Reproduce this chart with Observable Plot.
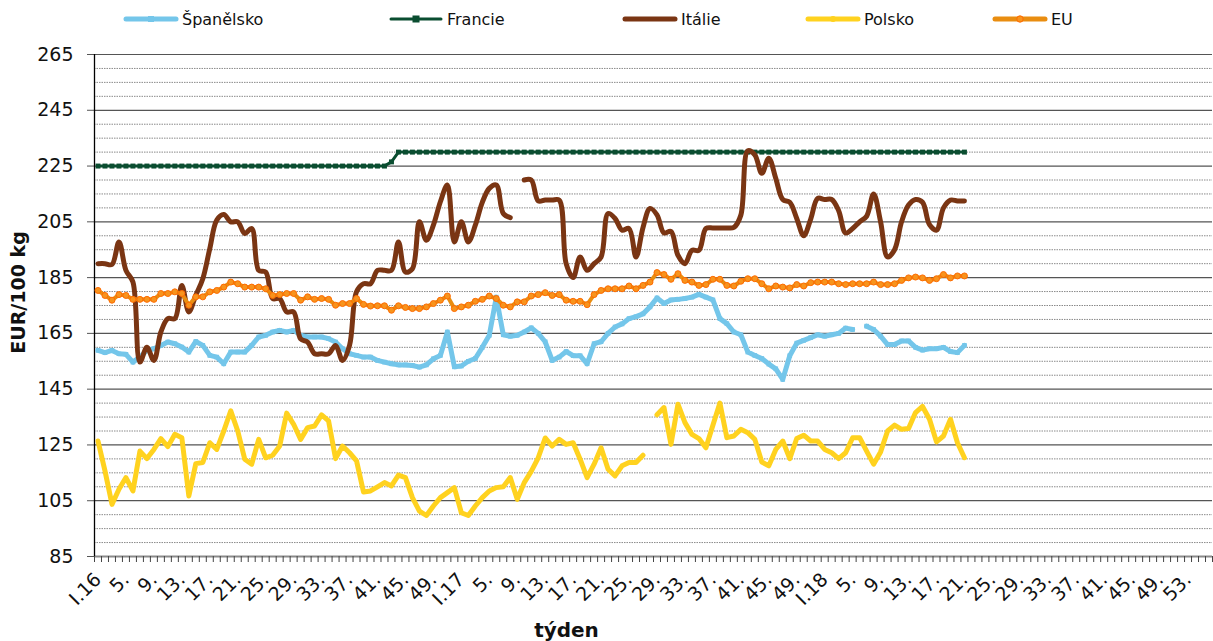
<!DOCTYPE html>
<html><head><meta charset="utf-8">
<script src="https://cdn.jsdelivr.net/npm/d3@7"></script>
<script src="https://cdn.jsdelivr.net/npm/@observablehq/plot@0.6"></script>
<style>
body{margin:0;background:#fff;font-family:"DejaVu Sans",Verdana,sans-serif;}
#wrap{position:relative;width:1213px;height:641px;overflow:hidden;background:#fff;}
#legend{position:absolute;left:0;top:0;width:1213px;height:40px;}
.item{position:absolute;top:7px;height:24px;display:flex;align-items:center;font-size:16px;color:#111;white-space:nowrap;}
.item svg{margin-right:3px;}
</style></head><body>
<div id="wrap"><div id="chart"></div><div id="legend"></div></div>
<script>
// ---- categories (weeks) ----
const years = ["16", "17", "18"];
const weeksPerYear = [52, 52, 56];
const categories = [];
years.forEach((y, k) => { for (let w = 1; w <= weeksPerYear[k]; w++) categories.push(w === 1 ? `I.${y}` : `${w}.`); });
const labelEvery = 4;

// ---- y ticks ----
const majorTicks = [85, 105, 125, 145, 165, 185, 205, 225, 245, 265];
const minorTicks = [90,95,100,110,115,120,130,135,140,150,155,160,170,175,180,190,195,200,210,215,220,230,235,240,250,255,260];

// ---- series (EUR/100 kg), one value per week from I.16 ----
const spain = [158.9,158.1,158.9,157.7,157.5,154.7,156.5,158.9,159.5,160.7,161.9,161.3,160.1,158.3,162.1,160.7,157.1,156.5,154.1,158.3,
158.3,158.3,160.7,163.7,164.3,165.5,166.1,165.5,166.1,164.3,163.7,163.7,163.7,163.1,161.9,159.5,157.7,157.1,156.5,156.5,
155.3,154.7,154.1,153.7,153.7,153.5,152.9,153.7,155.9,157.1,165.5,153,153.3,155,156,160,164.3,178,164.5,164,
164.3,165.5,167,165,162,155.3,156.5,158.5,157,157,154.1,161.3,162,165,167.3,168.4,170.3,171,172,174.5,
177.7,175.7,177,177.2,177.5,178,179,178,177,170.3,168.5,165.5,164.5,158.3,157.1,156,154,152.3,148.5,157,
161.5,162.5,163.5,164.5,164,164.5,165,166.9,166.4,null,167.6,166.4,164,161,161,162.3,162.3,160,159,159.5,
159.5,160,158.5,158.1,160.7];

const france = [225,225,225,225,225,225,225,225,225,225,225,225,225,225,225,225,225,225,225,225,
225,225,225,225,225,225,225,225,225,225,225,225,225,225,225,225,225,225,225,225,
225,225,226.5,230,230,230,230,230,230,230,230,230,230,230,230,230,230,230,230,230,
230,230,230,230,230,230,230,230,230,230,230,230,230,230,230,230,230,230,230,230,
230,230,230,230,230,230,230,230,230,230,230,230,230,230,230,230,230,230,230,230,
230,230,230,230,230,230,230,230,230,230,230,230,230,230,230,230,230,230,230,230,
230,230,230,230,230];

const italy = [190,190,189.7,197.8,187.6,183.4,154.7,160,155.3,165.5,170.3,170.3,182.2,172.7,178.7,184.6,195.4,205.6,207.6,205,
205,200.8,202.6,187.6,187,177.5,177.5,172.7,172.7,163,161.9,157.7,157.7,157.7,160.7,155.3,160.7,179.9,182.8,182.8,
187.6,187.6,187.6,197.8,187,188.2,205,198.4,203.8,212.2,218.2,197.8,205,197.8,203.8,212,217,218.2,208,206.5,
null,220,220,212.5,212.8,212.8,212.8,190,185,192.4,187.6,190,192.4,208,206.2,202,202.6,192.4,203,209.8,
207.5,201,201.6,193,190,194.8,194.8,202.6,202.8,202.8,202.8,203,207.4,230.5,229,222.4,227.8,220.6,213,212,
206.2,200,206,213.4,213,213,209,201,202.6,205,207,215,205,192.4,195,205,211,213,212,204,
202,210,212.8,212.5,212.5];

const poland = [126.4,115.7,103.7,109.1,113.3,108.5,122.8,120.1,123.4,127.3,124.4,128.8,127.6,106.7,118.3,118.7,125.8,123.4,130,137.2,
130,119.9,118.1,127,120.4,121.3,124.6,136.4,132.4,127,131.2,131.8,135.8,133.6,120.1,124.6,122.2,119.3,108.1,108.5,
110,111.5,110.3,114.2,113.3,106.1,101.3,99.7,103.1,106.1,107.9,109.7,100.7,99.7,103.1,106.1,108.5,109.7,110,113.3,
105.5,111.5,115.5,120.4,127.5,124.6,127,125.2,125.8,119.9,113.3,118.1,124,116.3,113.9,117.5,118.7,118.7,121.3,null,
135.8,138.4,125.2,139.6,133,128.8,127.3,124,132.1,140,127.6,128.2,130.6,129.4,127,118.9,117.5,123.4,126.4,120.1,
127.3,128.5,126.4,126.4,123.4,122.2,120.1,122.2,127.6,127.6,122.8,118.1,122.5,130,132.1,130.6,130.9,136.6,138.8,134.2,
126.1,128.2,134.2,125.8,120.4];

const eu = [180.4,178.6,176.9,178.9,178.6,177.2,177.2,177.2,177.2,179.3,179.3,179.9,179.3,175.1,178.1,178.1,179.9,180.4,181.6,183.4,
182.8,181.6,181.6,181.6,181,178.6,178.9,179.3,179.3,176.9,178.1,177.2,177.5,177.2,175.1,175.7,175.7,177.5,175.4,174.8,
174.9,174.9,173.3,174.9,174.3,173.9,173.9,174.5,175.7,176.9,178.4,173.9,174.5,175.1,176.5,177.2,178.4,177.5,175.1,174.5,
176.3,176.3,178.4,178.9,179.6,178.6,178.9,176.9,176.5,176.5,175.3,178.9,180.4,181,181,181,182,181,182.2,183.4,
186.8,186.1,184.4,186.4,184,183.4,182.2,182.5,184.4,184.4,182.2,182,183.7,184.6,184.6,182.8,181,182,181.6,181.3,
182.5,182,183.2,183.4,183.4,183.4,182.8,182.5,182.8,182.8,182.8,183.4,182.5,182.5,182.8,184,184.9,185.2,184.9,184,
184.6,186.1,184.9,185.6,185.6];

const seriesNames = ["Španělsko", "Francie", "Itálie", "Polsko", "EU"];
const colors = {spain: "#74C6EA", france: "#0A4D30", italy: "#7A3513", poland: "#FFD21F", eu: "#E98D10", euDot: "#F7941D", euDotStroke: "#FF6A00"};

const idx = (d, i) => i;
const val = d => d;
const boundaries = d3.range(categories.length + 1).map(i => i - 0.5);
const labelIdx = categories.map((c, i) => i).filter(i => i % labelEvery === 0);

const chart = Plot.plot({
  width: 1213, height: 641,
  marginLeft: 94, marginRight: 1, marginTop: 54, marginBottom: 85,
  style: {fontFamily: "'DejaVu Sans', Verdana, sans-serif", background: "#fff", overflow: "visible"},
  x: {type: "linear", domain: [-0.5, categories.length - 0.5]},
  y: {domain: [85, 265]},
  marks: [
    Plot.ruleY(minorTicks, {stroke: "#8a8a8a", strokeDasharray: "1.5,1", strokeWidth: 1}),
    Plot.ruleY(majorTicks.slice(1), {stroke: "#555", strokeWidth: 1.2}),
    Plot.axisY({ticks: majorTicks, tickSize: 7, tickPadding: 14, fontSize: 19, label: null, stroke: "#555", fill: "#111"}),
    Plot.ruleY([85], {stroke: "#8a8a8a", strokeWidth: 2}),
    Plot.axisX({ticks: boundaries, tickSize: 6, tickFormat: () => "", label: null, stroke: "#444"}),
    Plot.axisX({ticks: labelIdx, tickSize: 0, tickPadding: 20, tickRotate: -45, tickFormat: i => categories[i], fontSize: 19, label: null, fill: "#111"}),
    Plot.ruleX([-0.5], {stroke: "#000", strokeWidth: 1.3}),
    // Španělsko
    Plot.lineY(spain, {x: idx, y: val, stroke: colors.spain, strokeWidth: 5, strokeLinejoin: "round", strokeLinecap: "round"}),
    Plot.dot(spain, {x: idx, y: val, symbol: "square", r: 2.6, fill: colors.spain}),
    // Francie
    Plot.lineY(france, {x: idx, y: val, stroke: colors.france, strokeWidth: 3}),
    Plot.dot(france, {x: idx, y: val, symbol: "square", r: 2.8, fill: colors.france}),
    // Itálie
    Plot.lineY(italy, {x: idx, y: val, stroke: colors.italy, strokeWidth: 5, curve: "catmull-rom", strokeLinecap: "round"}),
    // Polsko
    Plot.lineY(poland, {x: idx, y: val, stroke: colors.poland, strokeWidth: 5, strokeLinejoin: "round", strokeLinecap: "round"}),
    // EU
    Plot.lineY(eu, {x: idx, y: val, stroke: colors.eu, strokeWidth: 4, strokeLinejoin: "round"}),
    Plot.dot(eu, {x: idx, y: val, r: 3, fill: colors.euDot, stroke: colors.euDotStroke, strokeWidth: 1}),
    // axis titles
    Plot.text(["EUR/100 kg"], {frameAnchor: "left", textAnchor: "middle", dx: -76, dy: -13, rotate: -90, fontWeight: "bold", fontSize: 19, fill: "#111"}),
    Plot.text(["týden"], {frameAnchor: "bottom", textAnchor: "middle", lineAnchor: "middle", dx: -87, dy: 74, fontWeight: "bold", fontSize: 20, fill: "#111"})
  ]
});
document.getElementById("chart").appendChild(chart);

// ---- legend ----
const legendItems = [
  {name: seriesNames[0], color: colors.spain, w: 5, marker: "square", left: 123},
  {name: seriesNames[1], color: colors.france, w: 3, marker: "bigsquare", left: 388},
  {name: seriesNames[2], color: colors.italy, w: 5, marker: "none", left: 622},
  {name: seriesNames[3], color: colors.poland, w: 5, marker: "circle", left: 805},
  {name: seriesNames[4], color: colors.eu, w: 5, marker: "eu", left: 992}
];
const legend = document.getElementById("legend");
legendItems.forEach(it => {
  const div = document.createElement("div");
  div.className = "item";
  div.style.left = it.left + "px";
  let mk = "";
  if (it.marker === "square") mk = `<rect x="25" y="9" width="6" height="6" fill="${it.color}"/>`;
  if (it.marker === "bigsquare") mk = `<rect x="24.5" y="8.5" width="7" height="7" fill="${it.color}"/>`;
  if (it.marker === "circle") mk = `<circle cx="28" cy="12" r="3" fill="${it.color}"/>`;
  if (it.marker === "eu") mk = `<circle cx="28" cy="12" r="3.2" fill="${colors.euDot}" stroke="${colors.euDotStroke}" stroke-width="1"/>`;
  div.innerHTML = `<svg width="56" height="24"><line x1="3" y1="12" x2="53" y2="12" stroke="${it.color}" stroke-width="${it.w}" stroke-linecap="round"/>${mk}</svg><span>${it.name}</span>`;
  legend.appendChild(div);
});
</script>
</body></html>
